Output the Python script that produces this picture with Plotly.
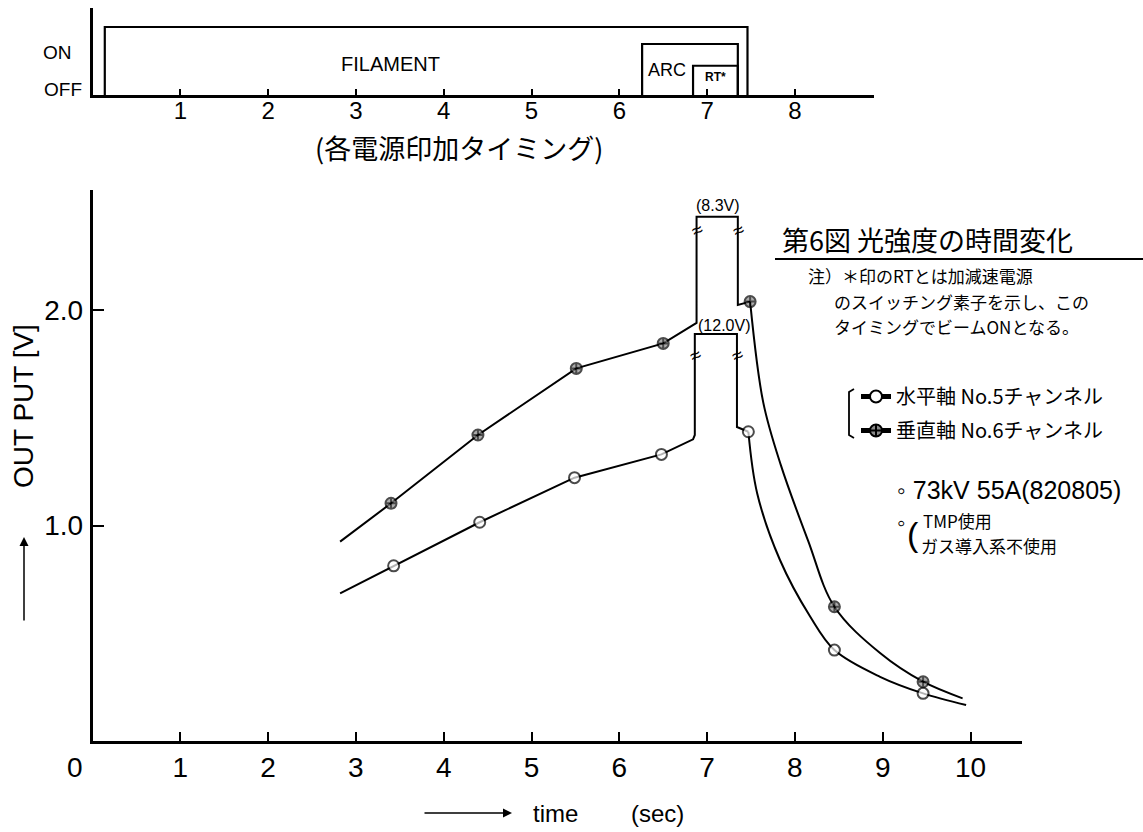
import plotly.graph_objects as go

W, H = 1143, 832

# ---------------- data ----------------
# No.5 channel (horizontal axis) - open circles
ch5_rise_t = [2.82, 3.43, 4.41, 5.49, 6.48, 6.84]
ch5_rise_v = [0.685, 0.813, 1.015, 1.222, 1.330, 1.400]
ch5_rise_mark = [0, 1, 1, 1, 1, 0]
# off-scale excursion (12.0 V), drawn as broken box
ch5_peak_t = [6.86, 6.86, 7.34, 7.34, 7.47]
ch5_peak_v = [1.420, 1.889, 1.889, 1.457, 1.435]
ch5_decay_t = [7.47, 7.57, 7.83, 8.17, 8.45, 8.97, 9.46, 9.95]
ch5_decay_v = [1.435, 1.150, 0.840, 0.580, 0.422, 0.298, 0.221, 0.167]
ch5_decay_mark = [1, 0, 0, 0, 1, 0, 1, 0]

# No.6 channel (vertical axis) - crossed circles
ch6_rise_t = [2.82, 3.40, 4.39, 5.51, 6.50, 6.88]
ch6_rise_v = [0.925, 1.103, 1.420, 1.729, 1.845, 1.940]
ch6_rise_mark = [0, 1, 1, 1, 1, 0]
# off-scale excursion (8.3 V)
ch6_peak_t = [6.88, 7.35, 7.35, 7.49]
ch6_peak_v = [2.433, 2.433, 2.023, 2.039]
ch6_decay_t = [7.49, 7.64, 7.84, 8.15, 8.45, 8.97, 9.46, 9.91]
ch6_decay_v = [2.039, 1.570, 1.280, 0.930, 0.623, 0.408, 0.275, 0.198]
ch6_decay_mark = [1, 0, 0, 0, 1, 0, 1, 0]

ch5_name = "水平軸 No.5チャンネル"
ch6_name = "垂直軸 No.6チャンネル"

# power-supply timing (top chart)
timing_names = ["FILAMENT", "ARC", "RT*"]
timing_on = [0.14, 6.26, 6.84]
timing_off = [7.46, 7.35, 7.35]
timing_level = [1.0, 0.75, 0.43]

main_xticks = [1, 2, 3, 4, 5, 6, 7, 8, 9, 10]
main_yticks = [1.0, 2.0]
main_yticktext = ["1.0", "2.0"]
top_xticks = [1, 2, 3, 4, 5, 6, 7, 8]

note_lines = ["注）＊印のRTとは加減速電源",
              "のスイッチング素子を示し、この",
              "タイミングでビームONとなる。"]
cond_lines = ["TMP使用", "ガス導入系不使用"]

# ---------------- helpers ----------------
def px(x):
    return x / W

def py(y):
    return 1 - y / H

LAT = "Liberation Sans, Arial, sans-serif"
JP = "Noto Sans CJK JP, sans-serif"
BLK = "black"

fig = go.Figure()

def sizes(marks, s):
    return [s if m else 0 for m in marks]

def lw(marks, w):
    return [w if m else 0 for m in marks]

SYM5 = dict(symbol="circle", color="white")
SYM6 = dict(symbol="circle-cross", color="#8a8a8a")

def series(t_lin, v_lin, mark_lin, t_dec, v_dec, mark_dec, sym, w):
    fig.add_trace(go.Scatter(
        x=t_lin, y=v_lin, mode="lines+markers", showlegend=False,
        line=dict(color=BLK, width=2),
        marker=dict(symbol=sym["symbol"], color=sym["color"], size=sizes(mark_lin, 11),
                    line=dict(color=BLK, width=lw(mark_lin, w))),
        xaxis="x", yaxis="y"))
    fig.add_trace(go.Scatter(
        x=t_dec, y=v_dec, mode="lines+markers", showlegend=False,
        line=dict(color=BLK, width=2, shape="spline", smoothing=1.0),
        marker=dict(symbol=sym["symbol"], color=sym["color"], size=sizes(mark_dec, 11),
                    line=dict(color=BLK, width=lw(mark_dec, w))),
        xaxis="x", yaxis="y"))

series(ch5_rise_t + ch5_peak_t, ch5_rise_v + ch5_peak_v, ch5_rise_mark + [0] * len(ch5_peak_t),
       ch5_decay_t, ch5_decay_v, ch5_decay_mark, SYM5, 2)
series(ch6_rise_t + ch6_peak_t, ch6_rise_v + ch6_peak_v, ch6_rise_mark + [0] * len(ch6_peak_t),
       ch6_decay_t, ch6_decay_v, ch6_decay_mark, SYM6, 2)

# legend entries
for i, (name, sym) in enumerate([(ch5_name, SYM5), (ch6_name, SYM6)]):
    fig.add_trace(go.Scatter(
        x=[None], y=[None], mode="lines+markers", name=name, showlegend=True,
        legendgroup=f"g{i}",
        line=dict(color=BLK, width=1.5),
        marker=dict(symbol=sym["symbol"], color=sym["color"], size=10, line=dict(color=BLK, width=1.8)),
        xaxis="x", yaxis="y"))

# timing chart
for name, on, off, lvl in zip(timing_names, timing_on, timing_off, timing_level):
    fig.add_trace(go.Scatter(
        x=[on, on, off, off], y=[0, lvl, lvl, 0], mode="lines", showlegend=False,
        line=dict(color=BLK, width=2.2), xaxis="x2", yaxis="y2", name=name))

axis_common = dict(showgrid=False, zeroline=False, showline=True, linecolor=BLK,
                   linewidth=2.5, ticks="inside", tickcolor=BLK, tickwidth=1.8,
                   fixedrange=True)

fig.update_layout(
    width=W, height=H,
    margin=dict(l=0, r=0, t=0, b=0),
    paper_bgcolor="white", plot_bgcolor="white",
    font=dict(family=LAT, color=BLK),
    xaxis=dict(domain=[px(92.5), px(1022)], range=[0, (1022 - 92.5) / 87.8],
               tickvals=main_xticks, ticklen=9, anchor="y",
               tickfont=dict(size=28, family=LAT), ticklabelstandoff=0, **axis_common),
    yaxis=dict(domain=[py(741), py(190)], range=[0, (741 - 190) / 215.5],
               tickvals=main_yticks, ticktext=main_yticktext, ticklen=12, anchor="x",
               tickfont=dict(size=28, family=LAT), ticklabelstandoff=1, **axis_common),
    xaxis2=dict(domain=[px(92.5), px(874)], range=[0, (874 - 92.5) / 87.8],
                tickvals=top_xticks, ticklen=6, anchor="y2",
                tickfont=dict(size=24, family=LAT), ticklabelstandoff=-8, **axis_common),
    yaxis2=dict(domain=[py(95), py(8)], range=[0, (95 - 8) / 68], anchor="x2",
                showticklabels=False, showgrid=False, zeroline=False, showline=True,
                linecolor=BLK, linewidth=2.5, ticks="", fixedrange=True),
    legend=dict(x=px(856), y=py(377), xanchor="left", yanchor="top",
                font=dict(size=20, family=JP, color=BLK), bgcolor="rgba(0,0,0,0)",
                itemsizing="constant", traceorder="grouped", tracegroupgap=5,
                itemwidth=30),
    showlegend=True,
)

ann = []

def text(x, y, s, size, family=LAT, xanchor="center", angle=0, ref="paper", align="center"):
    d = dict(text=s, showarrow=False, font=dict(size=size, family=family, color=BLK),
             xanchor=xanchor, yanchor="middle", textangle=angle, align=align)
    if ref == "paper":
        d.update(x=px(x), y=py(y), xref="paper", yref="paper")
    else:
        d.update(x=x, y=y, xref=ref[0], yref=ref[1])
    ann.append(d)

# axes texts
text(75, 767, "0", 28)
text(24, 406, "OUT PUT [V]", 28, angle=-90)
ann.append(dict(x=px(24), y=py(537), xref="paper", yref="paper", text="", showarrow=True,
                ax=0, ay=85, arrowhead=2, arrowsize=1.2, arrowwidth=1.5, arrowcolor=BLK))
ann.append(dict(x=px(512), y=py(813), xref="paper", yref="paper", text="", showarrow=True,
                ax=-89, ay=0, arrowhead=2, arrowsize=1.2, arrowwidth=1.5, arrowcolor=BLK))
text(555, 813, "time", 24)
text(657, 813, "(sec)", 24)

# timing chart texts
text(57, 52, "ON", 19)
text(63, 89, "OFF", 19)
text(390, 64, "FILAMENT", 20)
text(667, 70, "ARC", 18)
text(715, 77, "<b>RT*</b>", 12)
text(459, 147, "(各電源印加タイミング)", 27, family=JP)

# peak labels and break marks
text(718, 205, "(8.3V)", 16)
text(724, 325, "(12.0V)", 16)
for xb, yb in [(6.88, 2.371), (7.35, 2.371), (6.86, 1.791), (7.34, 1.791)]:
    text(xb, yb, "≈", 19, angle=-25, ref=("x", "y"))

# title and notes
text(780, 240, "第6図 光強度の時間変化", 27, family=JP, xanchor="left")
for (xl, yl), s in zip([(806, 276), (832, 301), (832, 326)], note_lines):
    text(xl, yl, s, 17, family=JP, xanchor="left")

text(895, 490, "◦ 73kV 55A(820805)", 25, xanchor="left")
text(895, 522, "◦", 24, xanchor="left")
text(913, 534, "(", 34, xanchor="center")
for (xl, yl), s in zip([(921, 520), (919, 545)], cond_lines):
    text(xl, yl, s, 17, family=JP, xanchor="left")

fig.update_layout(annotations=ann)

shapes = [
    dict(type="line", xref="paper", yref="paper", x0=px(775), x1=px(1143), y0=py(259), y1=py(259),
         line=dict(color=BLK, width=2)),
    dict(type="path", xref="paper", yref="paper",
         path=f"M {px(854)},{py(389)} L {px(849)},{py(392)} L {px(849)},{py(435)} L {px(854)},{py(438)}",
         line=dict(color=BLK, width=1.8)),
]
fig.update_layout(shapes=shapes)

fig.write_html("out.html")
